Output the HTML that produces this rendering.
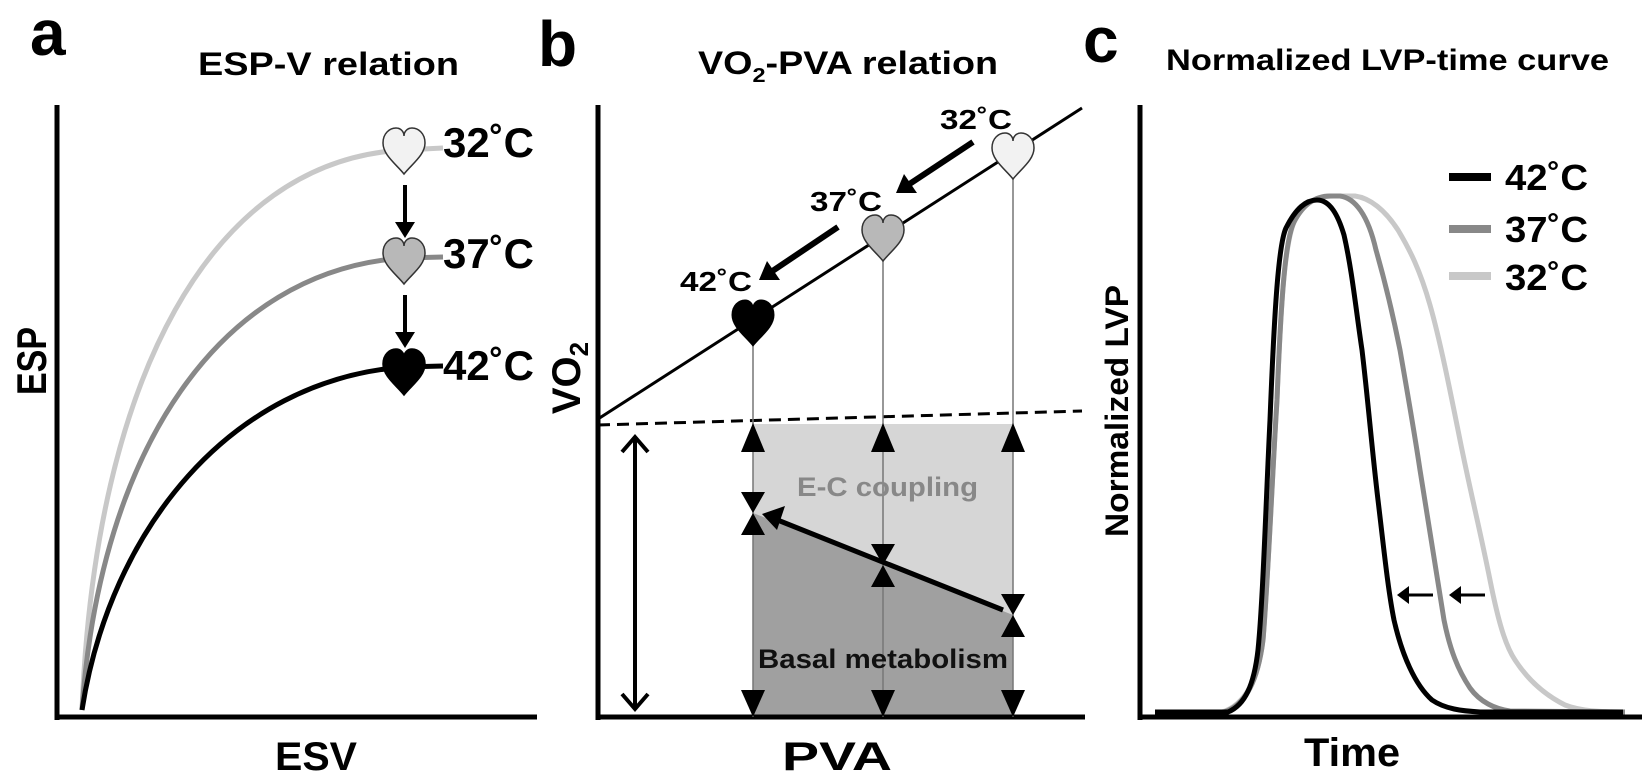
<!DOCTYPE html>
<html><head><meta charset="utf-8"><style>
html,body{margin:0;padding:0;background:#fff;}
svg{display:block;}
text{font-family:"Liberation Sans",Arial,sans-serif;font-weight:bold;}
</style></head><body>
<svg width="1650" height="784" viewBox="0 0 1650 784" xmlns="http://www.w3.org/2000/svg">
<defs>
<path id="heart" d="M0,23 C-8,13 -21,4 -21,-8 C-21,-18 -14,-23 -8,-23 C-3,-23 0,-19 0,-15 C0,-19 3,-23 8,-23 C14,-23 21,-18 21,-8 C21,4 8,13 0,23 Z"/>
</defs>

<!-- Panel a -->
<text x="30" y="55" font-size="64">a</text>
<text x="198" y="75" font-size="32" textLength="261" lengthAdjust="spacingAndGlyphs">ESP-V relation</text>
<line x1="57" y1="105" x2="57" y2="720" stroke="#000" stroke-width="5"/>
<line x1="55" y1="717" x2="537" y2="717" stroke="#000" stroke-width="5"/>
<path d="M82,710 C95,380 210,160 404,150 L443,148" fill="none" stroke="#c8c8c8" stroke-width="5"/>
<path d="M82,710 C100,450 220,270 404,258 L443,257" fill="none" stroke="#888" stroke-width="5"/>
<path d="M82,710 C110,530 230,380 404,367 L443,366" fill="none" stroke="#000" stroke-width="5"/>
<use href="#heart" x="404" y="151" fill="#f2f2f2" stroke="#333" stroke-width="1.5"/>
<use href="#heart" x="404" y="261" fill="#b8b8b8" stroke="#333" stroke-width="1.5"/>
<use href="#heart" x="404" y="372" fill="#000" stroke="#000" stroke-width="1.5"/>
<line x1="405" y1="185" x2="405" y2="225" stroke="#000" stroke-width="4"/>
<polygon points="395,222 415,222 405,238" fill="#000"/>
<line x1="405" y1="295" x2="405" y2="335" stroke="#000" stroke-width="4"/>
<polygon points="395,332 415,332 405,348" fill="#000"/>
<text x="443" y="157" font-size="42" textLength="91" lengthAdjust="spacingAndGlyphs">32˚C</text>
<text x="443" y="268" font-size="42" textLength="91" lengthAdjust="spacingAndGlyphs">37˚C</text>
<text x="443" y="380" font-size="42" textLength="91" lengthAdjust="spacingAndGlyphs">42˚C</text>
<text transform="translate(46,361) rotate(-90)" text-anchor="middle" font-size="42" textLength="68" lengthAdjust="spacingAndGlyphs">ESP</text>
<text x="275" y="770" font-size="40" textLength="82" lengthAdjust="spacingAndGlyphs">ESV</text>

<!-- Panel b -->
<text x="538" y="66" font-size="64">b</text>
<text x="698" y="74" font-size="32" textLength="300" lengthAdjust="spacingAndGlyphs">VO<tspan font-size="20" dy="8">2</tspan><tspan dy="-8">-PVA relation</tspan></text>
<rect x="753" y="424" width="260" height="293" fill="#d6d6d6"/>
<polygon points="753,513 1013,615 1013,717 753,717" fill="#a0a0a0"/>
<line x1="598" y1="105" x2="598" y2="720" stroke="#000" stroke-width="5"/>
<line x1="596" y1="717" x2="1085" y2="717" stroke="#000" stroke-width="5"/>
<line x1="598" y1="419" x2="1082" y2="108" stroke="#000" stroke-width="3"/>
<line x1="598" y1="425" x2="1082" y2="411" stroke="#000" stroke-width="3" stroke-dasharray="12,7"/>
<g stroke="#777" stroke-width="1.5">
<line x1="753" y1="330" x2="753" y2="717"/>
<line x1="883" y1="245" x2="883" y2="717"/>
<line x1="1013" y1="165" x2="1013" y2="717"/>
</g>
<g fill="#000">
<polygon points="753,423 741,452 765,452"/><polygon points="883,423 871,452 895,452"/><polygon points="1013,423 1001,452 1025,452"/>
<polygon points="753,717 741,690 765,690"/><polygon points="883,717 871,690 895,690"/><polygon points="1013,717 1001,690 1025,690"/>
<polygon points="741,492 765,492 753,513 765,535 741,535 753,513"/>
<polygon points="871,544 895,544 883,565 895,587 871,587 883,565"/>
<polygon points="1001,594 1025,594 1013,615 1025,637 1001,637 1013,615"/>
</g>
<line x1="1003" y1="610" x2="775" y2="519" stroke="#000" stroke-width="5"/>
<polygon points="762,514 785,506 777,530" fill="#000"/>
<line x1="635" y1="440" x2="635" y2="706" stroke="#000" stroke-width="4"/>
<polyline points="622,452 635,437 648,452" fill="none" stroke="#000" stroke-width="4"/>
<polyline points="622,694 635,709 648,694" fill="none" stroke="#000" stroke-width="4"/>
<use href="#heart" x="753" y="323" fill="#000" stroke="#000"/>
<use href="#heart" x="883" y="238" fill="#b8b8b8" stroke="#333" stroke-width="1.5"/>
<use href="#heart" x="1013" y="156" fill="#f2f2f2" stroke="#333" stroke-width="1.5"/>
<line x1="973" y1="142" x2="908" y2="185" stroke="#000" stroke-width="6"/>
<polygon points="896,193 904,174 917,193" fill="#000"/>
<line x1="838" y1="227" x2="771" y2="272" stroke="#000" stroke-width="6"/>
<polygon points="759,280 767,261 780,280" fill="#000"/>
<text x="940" y="129" font-size="28" textLength="72" lengthAdjust="spacingAndGlyphs">32˚C</text>
<text x="810" y="211" font-size="28" textLength="72" lengthAdjust="spacingAndGlyphs">37˚C</text>
<text x="680" y="291" font-size="28" textLength="72" lengthAdjust="spacingAndGlyphs">42˚C</text>
<text x="797" y="496" font-size="27" fill="#888" textLength="181" lengthAdjust="spacingAndGlyphs">E-C coupling</text>
<text x="758" y="668" font-size="27" fill="#111" textLength="250" lengthAdjust="spacingAndGlyphs">Basal metabolism</text>
<text transform="translate(580,378) rotate(-90)" text-anchor="middle" font-size="40">VO<tspan font-size="26" dy="8">2</tspan></text>
<text x="782" y="770" font-size="40" textLength="110" lengthAdjust="spacingAndGlyphs">PVA</text>

<!-- Panel c -->
<text x="1083" y="62" font-size="64">c</text>
<text x="1166" y="70" font-size="30" textLength="443" lengthAdjust="spacingAndGlyphs">Normalized LVP-time curve</text>
<line x1="1140" y1="105" x2="1140" y2="720" stroke="#000" stroke-width="5"/>
<line x1="1138" y1="717" x2="1642" y2="717" stroke="#000" stroke-width="5"/>
<path d="M1155,712 L1228,712 C1245,705 1255,680 1259,650 C1263,610 1267,520 1272,420 C1275,330 1280,250 1290,225 C1300,205 1310,198 1317,200 C1330,200 1340,225 1346,245 C1352,270 1356,320 1362,360 C1368,400 1372,470 1378,510 C1384,560 1388,590 1394,615 C1402,650 1415,680 1430,695 C1445,708 1460,711 1480,712 L1623,712" fill="none" stroke="#c8c8c8" stroke-width="5" opacity="0"/>
<!-- 32 light -->
<path d="M1160,712 L1222,712 C1245,705 1258,680 1263,640 C1268,580 1272,480 1277,400 C1281,300 1285,240 1295,220 C1305,202 1318,196 1333,196 L1355,196 C1370,198 1385,210 1398,230 C1410,250 1420,270 1430,305 C1440,340 1450,390 1460,440 C1470,490 1480,530 1490,580 C1498,620 1505,645 1515,660 C1528,680 1545,695 1565,705 C1580,711 1600,712 1625,712" fill="none" stroke="#c8c8c8" stroke-width="5"/>
<!-- 37 gray -->
<path d="M1160,712 L1224,712 C1246,705 1258,680 1263,640 C1268,580 1272,480 1277,400 C1281,300 1285,240 1294,222 C1304,203 1316,196 1330,196 L1340,196 C1355,198 1368,215 1376,250 C1386,285 1394,320 1400,350 C1407,390 1414,430 1420,470 C1428,520 1436,570 1444,620 C1450,650 1458,670 1470,688 C1480,702 1495,709 1510,711 L1625,712" fill="none" stroke="#888" stroke-width="5"/>
<!-- 42 black -->
<path d="M1155,712 L1228,712 C1245,705 1254,685 1258,650 C1263,600 1266,500 1270,420 C1274,320 1278,245 1286,228 C1296,208 1306,200 1317,200 C1330,200 1338,215 1344,235 C1352,270 1356,310 1362,350 C1368,400 1372,450 1378,500 C1384,550 1388,590 1394,620 C1402,655 1415,685 1432,700 C1445,709 1462,711 1480,712 L1623,712" fill="none" stroke="#000" stroke-width="5"/>
<line x1="1433" y1="595" x2="1405" y2="595" stroke="#000" stroke-width="3"/>
<polygon points="1397,595 1409,586 1409,604" fill="#000"/>
<line x1="1485" y1="595" x2="1457" y2="595" stroke="#000" stroke-width="3"/>
<polygon points="1449,595 1461,586 1461,604" fill="#000"/>
<line x1="1449" y1="177" x2="1491" y2="177" stroke="#000" stroke-width="8"/>
<line x1="1449" y1="229" x2="1491" y2="229" stroke="#888" stroke-width="8"/>
<line x1="1449" y1="276" x2="1491" y2="276" stroke="#c8c8c8" stroke-width="8"/>
<text x="1505" y="190" font-size="36" textLength="83" lengthAdjust="spacingAndGlyphs">42˚C</text>
<text x="1505" y="242" font-size="36" textLength="83" lengthAdjust="spacingAndGlyphs">37˚C</text>
<text x="1505" y="290" font-size="36" textLength="83" lengthAdjust="spacingAndGlyphs">32˚C</text>
<text transform="translate(1128,411) rotate(-90)" text-anchor="middle" font-size="32" textLength="252" lengthAdjust="spacingAndGlyphs">Normalized LVP</text>
<text x="1304" y="766" font-size="40" textLength="96" lengthAdjust="spacingAndGlyphs">Time</text>
</svg>
</body></html>
